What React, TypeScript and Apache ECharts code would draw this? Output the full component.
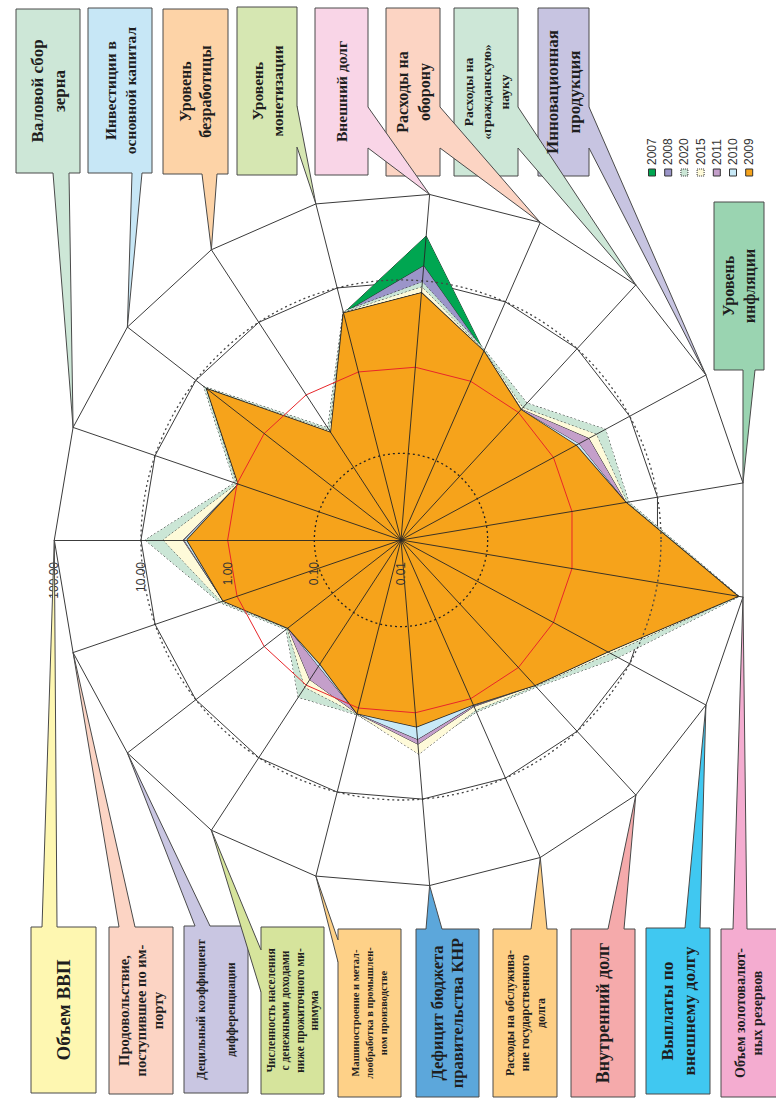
import React, { useEffect, useRef } from "react";
import * as echarts from "echarts";

// Axes in clockwise order on screen, starting from the left-pointing axis
const axisNames = [
  "Объем ВВП",
  "Валовой сбор зерна",
  "Инвестиции в основной капитал",
  "Уровень безработицы",
  "Уровень монетизации",
  "Внешний долг",
  "Расходы на оборону",
  "Расходы на «гражданскую» науку",
  "Инновационная продукция",
  "Уровень инфляции",
  "Объем золотовалютных резервов",
  "Выплаты по внешнему долгу",
  "Внутренний долг",
  "Расходы на обслуживание государственного долга",
  "Дефицит бюджета правительства КНР",
  "Машиностроение и металлообработка в промышленном производстве",
  "Численность населения с денежными доходами ниже прожиточного минимума",
  "Децильный коэффициент дифференциации",
  "Продовольствие, поступившее по импорту",
];

const tickLabels = ["0.01", "0.10", "1.00", "10.00", "100.00"];

const years = ["2007", "2008", "2020", "2015", "2011", "2010", "2009"];
const yearColors = ["#00a651", "#9b95c9", "#cbe6d6", "#fefad9", "#c49fca", "#c8e9f7", "#f6a31b"];
const dottedYears = ["2020", "2015"];

const v2007 = [3.06, 0.96, 6.88, 0.30, 5.00, 33.0, 2.38, 1.10, 1.97, 4.26, 86.9, 5.13, 1.90, 1.19, 1.45, 1.16, 0.51, 0.45, 1.47];
const v2008 = [3.27, 0.96, 6.88, 0.30, 5.00, 14.9, 2.38, 1.10, 1.97, 4.26, 86.9, 5.13, 1.90, 1.19, 1.45, 1.16, 0.51, 0.45, 1.47];
const v2020 = [8.97, 1.07, 7.65, 0.35, 5.26, 9.71, 2.51, 1.40, 4.81, 4.62, 91.0, 7.06, 2.03, 1.47, 2.72, 1.20, 1.47, 0.48, 1.64];
const v2015 = [5.56, 1.00, 7.00, 0.32, 5.10, 8.50, 2.42, 1.19, 3.64, 4.40, 88.0, 5.60, 1.95, 1.40, 3.02, 1.18, 1.07, 0.46, 1.55];
const v2011 = [3.27, 0.96, 6.88, 0.30, 5.00, 7.25, 2.38, 1.12, 2.90, 4.26, 86.9, 5.13, 1.90, 1.25, 2.31, 1.16, 0.84, 0.45, 1.47];
const v2010 = [3.18, 0.96, 6.88, 0.30, 5.00, 7.25, 2.38, 1.10, 2.14, 4.26, 86.9, 5.13, 1.90, 1.22, 2.03, 1.16, 0.55, 0.45, 1.47];
const v2009 = [2.94, 0.96, 6.88, 0.30, 5.00, 7.25, 2.38, 1.10, 1.97, 4.26, 86.9, 5.13, 1.90, 1.19, 1.45, 1.16, 0.51, 0.45, 1.47];
const seriesValues = [v2007, v2008, v2020, v2015, v2011, v2010, v2009];

const CX = 401;
const CY = 540;
const R = 346.7;
const N = axisNames.length;

// ECharts places indicators counter-clockwise; our lists are clockwise from the left axis
const order = Array.from({ length: N }, (_, i) => (N - i) % N);
const toPlot = (arr: number[]) => order.map((k) => Math.log10(arr[k]) + 2);

const tip = (k: number) => {
  const th = Math.PI - (k * 2 * Math.PI) / N;
  return [CX + R * Math.cos(th), CY - R * Math.sin(th)];
};

type Callout = {
  k: number;
  text: string;
  fill: string;
  box: number[];
  side: "top" | "bottom" | "left" | "right";
  base: number[];
  fs: number;
  lh: number;
};

const callouts: Callout[] = [
  { k: 1, text: "Валовой сбор\nзерна", fill: "#cde7d7", box: [16, 9, 64, 164], side: "bottom", base: [53, 69], fs: 17, lh: 22 },
  { k: 2, text: "Инвестиции в\nосновной капитал", fill: "#c7e7f6", box: [88, 8, 64, 165], side: "bottom", base: [132, 142], fs: 15.5, lh: 20 },
  { k: 3, text: "Уровень\nбезработицы", fill: "#fdd3a7", box: [163, 9, 65, 165], side: "bottom", base: [202, 217], fs: 16, lh: 20 },
  { k: 4, text: "Уровень\nмонетизации", fill: "#d6e7b2", box: [237, 7, 60, 168], side: "right", base: [106, 147], fs: 15.5, lh: 20 },
  { k: 5, text: "Внешний долг", fill: "#f9d5e7", box: [315, 8, 53, 167], side: "right", base: [107, 148], fs: 15.5, lh: 20 },
  { k: 6, text: "Расходы на\nоборону", fill: "#fcd4c3", box: [386, 8, 54, 168], side: "right", base: [107, 148], fs: 16, lh: 22 },
  { k: 7, text: "Расходы на\n«гражданскую»\nнауку", fill: "#cde7d7", box: [454, 8, 64, 168], side: "right", base: [107, 148], fs: 13.5, lh: 18 },
  { k: 8, text: "Инновационная\nпродукция", fill: "#c7c4e1", box: [538, 8, 51, 168], side: "right", base: [107, 148], fs: 17, lh: 22 },
  { k: 9, text: "Уровень\nинфляции", fill: "#9ad4b1", box: [714, 202, 50, 168], side: "bottom", base: [743, 755], fs: 16, lh: 21 },
  { k: 0, text: "Объем ВВП", fill: "#fef7b1", box: [31, 927, 65, 166], side: "top", base: [42, 57], fs: 19, lh: 22 },
  { k: 18, text: "Продовольствие,\nпоступившее по им-\nпорту", fill: "#fcd4c4", box: [109, 927, 64, 167], side: "top", base: [119, 135], fs: 14.5, lh: 17 },
  { k: 17, text: "Децильный коэффициент\n\nдифференциации", fill: "#c9c6e2", box: [184, 926, 64, 167], side: "top", base: [195, 210], fs: 12, lh: 15 },
  { k: 16, text: "Численность населения\nс денежными доходами\nниже прожиточного ми-\nнимума", fill: "#d6e49c", box: [261, 927, 63, 167], side: "left", base: [950, 992], fs: 11.5, lh: 14.5 },
  { k: 15, text: "Машиностроение и метал-\nлообработка в промышлен-\nном производстве", fill: "#fed188", box: [338, 929, 63, 168], side: "left", base: [940, 962], fs: 10.5, lh: 14 },
  { k: 14, text: "Дефицит бюджета\nправительства КНР", fill: "#5ca7db", box: [416, 929, 63, 168], side: "top", base: [426, 442], fs: 16.5, lh: 20 },
  { k: 13, text: "Расходы на обслужива-\nние государственного\nдолга", fill: "#fecf85", box: [493, 929, 64, 168], side: "top", base: [531, 547], fs: 12, lh: 15.5 },
  { k: 12, text: "Внутренний долг", fill: "#f5aaab", box: [571, 929, 64, 168], side: "top", base: [608, 624], fs: 18, lh: 22 },
  { k: 11, text: "Выплаты по\nвнешнему долгу", fill: "#40c8f1", box: [646, 928, 64, 166], side: "top", base: [685, 700], fs: 17.5, lh: 22 },
  { k: 10, text: "Объем золотовалют-\nных резервов", fill: "#f4acd0", box: [721, 929, 56, 168], side: "top", base: [733, 747], fs: 14, lh: 17 },
];

function buildGraphics() {
  const els: any[] = [];
  callouts.forEach((c) => {
    const [bx, by, bw, bh] = c.box;
    const t = tip(c.k);
    let b1: number[], b2: number[], i1: number[], i2: number[];
    if (c.side === "bottom") {
      b1 = [c.base[0], by + bh]; b2 = [c.base[1], by + bh];
      i1 = [c.base[0], by + bh - 2]; i2 = [c.base[1], by + bh - 2];
    } else if (c.side === "top") {
      b1 = [c.base[0], by]; b2 = [c.base[1], by];
      i1 = [c.base[0], by + 2]; i2 = [c.base[1], by + 2];
    } else if (c.side === "right") {
      b1 = [bx + bw, c.base[0]]; b2 = [bx + bw, c.base[1]];
      i1 = [bx + bw - 2, c.base[0]]; i2 = [bx + bw - 2, c.base[1]];
    } else {
      b1 = [bx, c.base[0]]; b2 = [bx, c.base[1]];
      i1 = [bx + 2, c.base[0]]; i2 = [bx + 2, c.base[1]];
    }
    els.push({ type: "rect", z: 20, silent: true, shape: { x: bx, y: by, width: bw, height: bh }, style: { fill: c.fill, stroke: "#4a4a4a", lineWidth: 1 } });
    els.push({ type: "polygon", z: 21, silent: true, shape: { points: [i1, b1, t, b2, i2] }, style: { fill: c.fill } });
    els.push({ type: "polyline", z: 21, silent: true, shape: { points: [b1, t, b2] }, style: { stroke: "#4a4a4a", lineWidth: 1, fill: null } });
    els.push({
      type: "text", z: 22, silent: true,
      x: bx + bw / 2, y: by + bh / 2, rotation: Math.PI / 2,
      style: {
        text: c.text, fill: "#1e1e1e",
        fontSize: c.fs, fontWeight: "bold", fontFamily: '"Liberation Serif", "DejaVu Serif", serif',
        lineHeight: c.lh, align: "center", verticalAlign: "middle",
        textAlign: "center", textVerticalAlign: "middle",
      },
    });
  });
  years.forEach((y, i) => {
    const x = 652 + i * 16.2;
    const dotted = dottedYears.indexOf(y) >= 0;
    els.push({ type: "rect", z: 20, silent: true, shape: { x: x - 3.5, y: 169, width: 7, height: 7 }, style: { fill: yearColors[i], stroke: "#333", lineWidth: 1, lineDash: dotted ? [1, 1] : null } });
    els.push({
      type: "text", z: 20, silent: true, x: x, y: 165, rotation: Math.PI / 2,
      style: { text: y, fill: "#333", fontSize: 12, fontFamily: '"Liberation Sans", Arial, sans-serif', align: "left", verticalAlign: "middle", textAlign: "left", textVerticalAlign: "middle" },
    });
  });
  return els;
}

function buildOption() {
  const indicators = order.map((k) => ({ name: axisNames[k], min: 0, max: 4 }));
  const base: any = {
    center: [CX, CY],
    radius: R,
    startAngle: 180,
    splitNumber: 4,
    shape: "polygon",
    axisName: { show: false },
    axisLine: { show: false },
    axisTick: { show: false },
    axisLabel: { show: false },
    splitArea: { show: false },
  };
  const radar = [
    {
      ...base,
      z: 0,
      indicator: indicators,
      splitLine: { lineStyle: { color: ["transparent", "transparent", "transparent", "#3a3a3a", "#3a3a3a"], width: 1 } },
    },
    {
      ...base,
      z: 4,
      indicator: indicators,
      splitLine: { lineStyle: { color: ["transparent", "transparent", "#e8262a", "transparent", "transparent"], width: 1 } },
    },
    {
      ...base,
      z: 5,
      shape: "circle",
      indicator: indicators.map((ind, i) => (i === 0 ? { ...ind, axisLabel: { show: true } } : ind)),
      axisLine: { show: true, lineStyle: { color: "#262626", width: 0.9 } },
      axisLabel: {
        show: false,
        rotate: 90,
        margin: 22,
        color: "#333",
        fontSize: 12,
        fontFamily: '"Liberation Sans", Arial, sans-serif',
        formatter: (val: number) => tickLabels[Math.round(val)] ?? "",
      },
      splitLine: { lineStyle: { color: ["transparent", "#222", "transparent", "#444", "transparent"], width: 1.3, type: [2, 3] } },
    },
  ];
  const series = years.map((y, i) => ({
    type: "radar",
    name: y,
    radarIndex: 0,
    z: 2 + i * 0.01,
    symbol: "none",
    silent: true,
    lineStyle: {
      color: "#2a2a2a",
      width: y === "2009" ? 1.6 : 1,
      type: dottedYears.indexOf(y) >= 0 ? [2, 2] : "solid",
    },
    areaStyle: { color: yearColors[i], opacity: 1 },
    data: [{ name: y, value: toPlot(seriesValues[i]) }],
  }));
  return {
    animation: false,
    backgroundColor: "#ffffff",
    radar,
    series,
    graphic: { elements: buildGraphics() },
  };
}

export default function App() {
  const ref = useRef<HTMLDivElement>(null);
  useEffect(() => {
    if (!ref.current) return;
    const chart = echarts.init(ref.current, null, { renderer: "svg" });
    chart.setOption(buildOption() as any);
    return () => chart.dispose();
  }, []);
  return (
    <div
      ref={ref}
      style={{ position: "absolute", left: 0, top: 0, width: 776, height: 1099, background: "#fff" }}
    />
  );
}
